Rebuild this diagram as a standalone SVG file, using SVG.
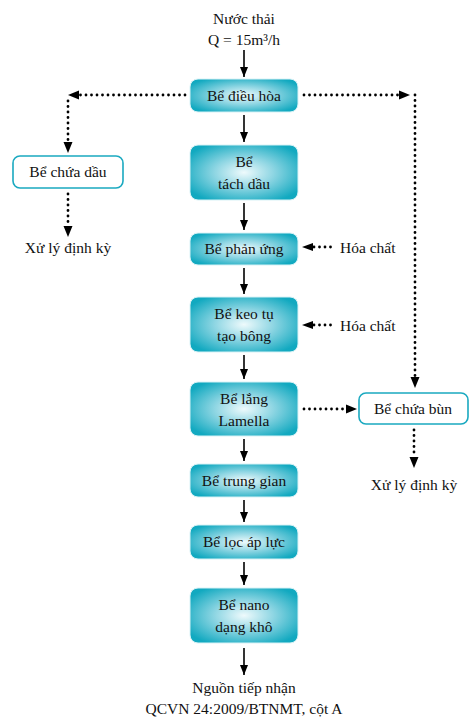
<svg xmlns="http://www.w3.org/2000/svg" width="476" height="718" viewBox="0 0 476 718">
<defs>
<radialGradient id="g" cx="0.5" cy="0.5" r="0.6">
<stop offset="0" stop-color="#eefafc"/>
<stop offset="0.45" stop-color="#8fd6e3"/>
<stop offset="1" stop-color="#12a9c0"/>
</radialGradient>
<marker id="a" viewBox="0 0 10 8" refX="10" refY="4" markerWidth="10" markerHeight="8" markerUnits="userSpaceOnUse" orient="auto">
<path d="M0,0 L10,4 L0,8 z" fill="#000"/>
</marker>
<style>
text{font-family:"Liberation Serif","Times New Roman",serif;font-size:15.5px;fill:#111;text-anchor:middle}
.t{text-anchor:start}
.box{fill:url(#g);stroke:#d8f2f6;stroke-width:1}
.wbox{fill:#fff;stroke:#1aa9c0;stroke-width:1.6}
.s{stroke:#000;stroke-width:1.6;fill:none}
.d{stroke:#000;stroke-width:2.8;fill:none;stroke-linecap:round;stroke-dasharray:0 5.5}
.h{fill:#000}
</style>
</defs>
<g id="connectors">
<line class="s" x1="244" y1="50" x2="244" y2="77" marker-end="url(#a)"/>
<line class="s" x1="244" y1="115" x2="244" y2="142" marker-end="url(#a)"/>
<line class="s" x1="244" y1="203" x2="244" y2="230" marker-end="url(#a)"/>
<line class="s" x1="244" y1="268" x2="244" y2="294" marker-end="url(#a)"/>
<line class="s" x1="244" y1="355" x2="244" y2="379" marker-end="url(#a)"/>
<line class="s" x1="244" y1="439" x2="244" y2="461" marker-end="url(#a)"/>
<line class="s" x1="244" y1="500" x2="244" y2="522" marker-end="url(#a)"/>
<line class="s" x1="244" y1="562" x2="244" y2="585" marker-end="url(#a)"/>
<line class="s" x1="244" y1="648" x2="244" y2="675" marker-end="url(#a)"/>
<!-- left oil branch -->
<path class="d" d="M185,95 H80"/>
<path class="h" d="M68,95 L79,90.5 L79,99.5 z"/>
<path class="d" d="M68,101 V142"/>
<path class="h" d="M68,153 L63.5,142 L72.5,142 z"/>
<path class="d" d="M68,194 V226"/>
<path class="h" d="M68,237 L63.5,226 L72.5,226 z"/>
<!-- right sludge branch -->
<path class="d" d="M304,95 H398"/>
<path class="h" d="M410,95 L399,90.5 L399,99.5 z"/>
<path class="d" d="M415,95 V377"/>
<path class="h" d="M415,388 L410.5,377 L419.5,377 z"/>
<path class="d" d="M304,409 H346"/>
<path class="h" d="M357,409 L346,404.5 L346,413.5 z"/>
<path class="d" d="M414,430 V457"/>
<path class="h" d="M414,468 L409.5,457 L418.5,457 z"/>
<!-- chemicals -->
<path class="d" d="M314,247 H334"/>
<path class="h" d="M302,247 L313,243 L313,251 z"/>
<path class="d" d="M314,325 H334"/>
<path class="h" d="M302,325 L313,321 L313,329 z"/>
</g>
<g id="input"><text x="244" y="24">Nước thải</text><text x="244" y="45">Q = 15m³/h</text></g>
<g id="n1"><rect class="box" x="190" y="79" width="108" height="33" rx="8"/><text x="244" y="101">Bể điều hòa</text></g>
<g id="n2"><rect class="box" x="190" y="145" width="108" height="55" rx="8"/><text x="244" y="167">Bể</text><text x="244" y="189">tách dầu</text></g>
<g id="n3"><rect class="box" x="190" y="233" width="108" height="32" rx="8"/><text x="244" y="254">Bể phản ứng</text></g>
<g id="n4"><rect class="box" x="190" y="297" width="108" height="55" rx="8"/><text x="244" y="319">Bể keo tụ</text><text x="244" y="341">tạo bông</text></g>
<g id="n5"><rect class="box" x="190" y="382" width="108" height="54" rx="8"/><text x="244" y="404">Bể lắng</text><text x="244" y="426">Lamella</text></g>
<g id="n6"><rect class="box" x="190" y="464" width="108" height="33" rx="8"/><text x="244" y="486">Bể trung gian</text></g>
<g id="n7"><rect class="box" x="190" y="525" width="108" height="34" rx="8"/><text x="244" y="547">Bể lọc áp lực</text></g>
<g id="n8"><rect class="box" x="190" y="588" width="108" height="55" rx="8"/><text x="244" y="610">Bể nano</text><text x="244" y="632">dạng khô</text></g>
<g id="output"><text x="244" y="693">Nguồn tiếp nhận</text><text x="244" y="714">QCVN 24:2009/BTNMT, cột A</text></g>
<g id="oil"><rect class="wbox" x="13" y="156" width="110" height="32" rx="7"/><text x="68" y="177">Bể chứa dầu</text></g>
<g id="oil-out"><text x="68" y="253">Xử lý định kỳ</text></g>
<g id="sludge"><rect class="wbox" x="359" y="393" width="109" height="31" rx="7"/><text x="413" y="414">Bể chứa bùn</text></g>
<g id="sludge-out"><text x="414" y="490">Xử lý định kỳ</text></g>
<g id="chem1"><text class="t" x="340" y="253">Hóa chất</text></g>
<g id="chem2"><text class="t" x="340" y="331">Hóa chất</text></g>
</svg>
